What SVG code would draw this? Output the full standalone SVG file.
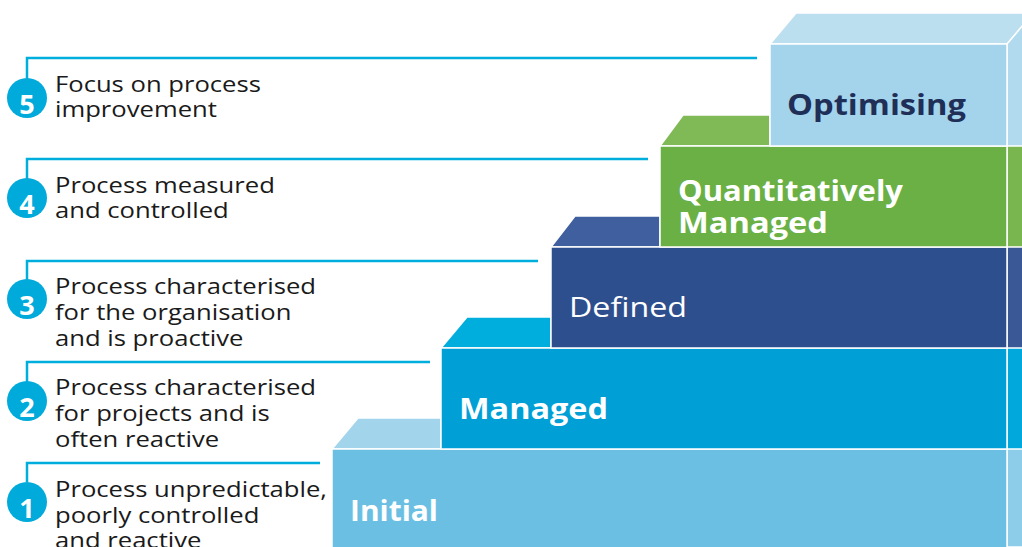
<svg xmlns="http://www.w3.org/2000/svg" width="1022" height="547" viewBox="0 0 1022 547">
  <style>
    .lead { fill: none; stroke: #00AEDD; stroke-width: 2.5; }
    .badge { fill: #00AADB; }
    .num { font-family: "Open Sans", "Liberation Sans", sans-serif; font-weight: 700; font-size: 27px; fill: #ffffff; text-anchor: middle; }
    .desc { font-family: "Open Sans", "Liberation Sans", sans-serif; font-size: 22px; fill: #1a1a1a; }
    .face { stroke: #ffffff; stroke-width: 1.5; stroke-linejoin: miter; }
    .lbl { font-family: "Open Sans", "Liberation Sans", sans-serif; font-size: 28px; font-weight: 700; fill: #ffffff; }
    .lbl.thin { font-weight: 400; }
    .lbl.dark { fill: #1F2F57; }
  </style>

  <!-- leader lines from each level to its description -->
  <g id="connectors">
    <polyline class="lead" points="27,80 27,58 757,58"/>
    <polyline class="lead" points="27,180 27,159 648,159"/>
    <polyline class="lead" points="27,280 27,261 538,261"/>
    <polyline class="lead" points="27,382 27,362 430,362"/>
    <polyline class="lead" points="27,482 27,463 320,463"/>
  </g>

  <!-- level descriptions (set slightly wide) -->
  <g id="desc-5">
    <circle class="badge" cx="27" cy="98" r="20"/>
    <text class="num" x="27" y="114">5</text>
    <text class="desc" transform="translate(55,92) scale(1.165,1)">Focus on process</text>
    <text class="desc" transform="translate(55,117) scale(1.165,1)">improvement</text>
  </g>
  <g id="desc-4">
    <circle class="badge" cx="27" cy="198" r="20"/>
    <text class="num" x="27" y="214">4</text>
    <text class="desc" transform="translate(55,193) scale(1.165,1)">Process measured</text>
    <text class="desc" transform="translate(55,218) scale(1.165,1)">and controlled</text>
  </g>
  <g id="desc-3">
    <circle class="badge" cx="27" cy="299" r="20"/>
    <text class="num" x="27" y="315">3</text>
    <text class="desc" transform="translate(55,294) scale(1.165,1)">Process characterised</text>
    <text class="desc" transform="translate(55,320) scale(1.165,1)">for the organisation</text>
    <text class="desc" transform="translate(55,346) scale(1.165,1)">and is proactive</text>
  </g>
  <g id="desc-2">
    <circle class="badge" cx="27" cy="401" r="20"/>
    <text class="num" x="27" y="417">2</text>
    <text class="desc" transform="translate(55,395) scale(1.165,1)">Process characterised</text>
    <text class="desc" transform="translate(55,421) scale(1.165,1)">for projects and is</text>
    <text class="desc" transform="translate(55,447) scale(1.165,1)">often reactive</text>
  </g>
  <g id="desc-1">
    <circle class="badge" cx="27" cy="502" r="20"/>
    <text class="num" x="27" y="518">1</text>
    <text class="desc" transform="translate(55,497) scale(1.165,1)">Process unpredictable,</text>
    <text class="desc" transform="translate(55,523) scale(1.165,1)">poorly controlled</text>
    <text class="desc" transform="translate(55,548) scale(1.165,1)">and reactive</text>
  </g>

  <!-- staircase of maturity levels, drawn bottom to top -->
  <g id="level-1">
    <polygon class="face" fill="#A2D4EC" points="332,449 358,418 441,418 441,449"/>
    <polygon class="face" fill="#8ECDE9" points="1007,449 1030,421 1030,547 1007,547"/>
    <rect class="face" fill="#6BBFE3" x="332" y="449" width="675" height="100"/>
    <text class="lbl" x="350" y="521" textLength="88" lengthAdjust="spacingAndGlyphs">Initial</text>
  </g>
  <g id="level-2">
    <polygon class="face" fill="#00AEDD" points="441,348 467,317 551,317 551,348"/>
    <polygon class="face" fill="#00A8DC" points="1007,348 1030,320 1030,449 1007,449"/>
    <rect class="face" fill="#00A0D7" x="441" y="348" width="566" height="101"/>
    <text class="lbl" x="459" y="419" textLength="149" lengthAdjust="spacingAndGlyphs">Managed</text>
  </g>
  <g id="level-3">
    <polygon class="face" fill="#405F9F" points="551,247 575,216 660,216 660,247"/>
    <polygon class="face" fill="#3A5896" points="1007,247 1030,219 1030,348 1007,348"/>
    <rect class="face" fill="#2E4F8E" x="551" y="247" width="456" height="101"/>
    <text class="lbl thin" x="569" y="317" textLength="118" lengthAdjust="spacingAndGlyphs">Defined</text>
  </g>
  <g id="level-4">
    <polygon class="face" fill="#80BA56" points="660,146 683,115 770,115 770,146"/>
    <polygon class="face" fill="#79B64F" points="1007,146 1030,118 1030,247 1007,247"/>
    <rect class="face" fill="#6AB045" x="660" y="146" width="347" height="101"/>
    <text class="lbl" x="678" y="201" textLength="225" lengthAdjust="spacingAndGlyphs">Quantitatively</text>
    <text class="lbl" x="678" y="233" textLength="150" lengthAdjust="spacingAndGlyphs">Managed</text>
  </g>
  <g id="level-5">
    <polygon class="face" fill="#BCDFF0" points="770,44 796,13 1030,13 1030,17 1007,44"/>
    <polygon class="face" fill="#B2DAEE" points="1007,44 1030,17 1030,146 1007,146"/>
    <rect class="face" fill="#A3D4EC" x="770" y="44" width="237" height="102"/>
    <text class="lbl dark" x="787" y="115" textLength="179" lengthAdjust="spacingAndGlyphs">Optimising</text>
  </g>
</svg>
